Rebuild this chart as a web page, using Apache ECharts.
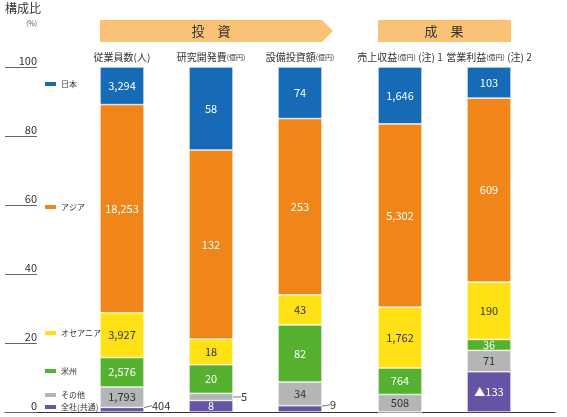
<!DOCTYPE html>
<html>
<head>
<meta charset="utf-8">
<script src="https://cdn.jsdelivr.net/npm/echarts@6/dist/echarts.min.js"></script>
<style>
  html, body { margin: 0; padding: 0; background: #fff; }
  #chart { width: 567px; height: 417px; }
</style>
</head>
<body>
<div id="chart"></div>
<script>
// 投資 / 成果 の項目
const investCategories = ['従業員数(人)', '研究開発費(億円)', '設備投資額(億円)'];
const resultCategories = ['売上収益(億円) (注) 1', '営業利益(億円) (注) 2'];

// 地域別の実数 (従業員数, 研究開発費, 設備投資額, 売上収益, 営業利益)
const japan     = [3294, 58, 74, 1646, 103];
const asia      = [18253, 132, 253, 5302, 609];
const oceania   = [3927, 18, 43, 1762, 190];
const americas  = [2576, 20, 82, 764, 36];
const other     = [1793, 5, 34, 508, 71];
const corporate = [404, 8, 9, 0, -133];

const yTicks = [0, 20, 40, 60, 80, 100];

// stack order: bottom first
const regions = ['全社(共通)', 'その他', '米州', 'オセアニア', 'アジア', '日本'];
const regionValues = [corporate, other, americas, oceania, asia, japan];
const regionColors = ['#6554a3', '#b4b5b6', '#56b130', '#ffe116', '#f08519', '#176ab6'];
const labelColors = ['#fff', '#333', '#fff', '#333', '#fff', '#fff'];
const legendTops = [403, 391, 367, 329, 203, 80];

// labels drawn outside the bar, with a leader line: [region, column, dy]
const outside = [[0, 0, -4], [1, 1, 0], [0, 2, -4]];

const totals = japan.map(function (_, j) {
  return regionValues.reduce(function (s, arr) { return s + Math.abs(arr[j]); }, 0);
});

function fmt(v) {
  const s = String(Math.abs(v)).replace(/\B(?=(\d{3})+(?!\d))/g, ',');
  return v < 0 ? '▲' + s : s;
}

function findOutside(r, j) {
  for (let k = 0; k < outside.length; k++) {
    if (outside[k][0] === r && outside[k][1] === j) return outside[k];
  }
  return null;
}

const groups = [[0, 1, 2], [3, 4]];
const series = [];
groups.forEach(function (cols, g) {
  regions.forEach(function (name, r) {
    series.push({
      type: 'bar',
      name: name,
      xAxisIndex: g + 1,
      yAxisIndex: g + 1,
      stack: 'share' + g,
      barWidth: 44,
      itemStyle: { color: regionColors[r], borderColor: '#fff', borderWidth: 0.6 },
      label: {
        show: true,
        position: 'inside',
        color: labelColors[r],
        fontSize: 11,
        formatter: function (p) { return p.data.raw === 0 ? '' : fmt(p.data.raw); }
      },
      labelLayout: function (p) {
        const o = findOutside(r, cols[p.dataIndex]);
        return o ? { dx: 6, dy: o[2] } : {};
      },
      data: cols.map(function (j) {
        const v = regionValues[r][j];
        const item = { value: Math.abs(v) / totals[j] * 100, raw: v };
        if (findOutside(r, j)) {
          item.label = { position: 'right', distance: 2, color: '#333' };
          item.labelLine = { show: true, lineStyle: { color: '#555', width: 0.8 } };
        }
        return item;
      })
    });
  });
});

const legends = regions.map(function (name, r) {
  return {
    data: [name],
    left: 43,
    top: legendTops[r],
    orient: 'vertical',
    padding: 0,
    icon: 'rect',
    itemWidth: 13,
    itemHeight: 6,
    itemGap: 4,
    textStyle: { fontSize: 8, color: '#333', padding: [0, 0, 0, -1] }
  };
});

function catLabel(s) {
  return '{a|' + s.replace('(億円)', '}{b|(億円)}{a|') + '}';
}

const topAxisLabel = {
  interval: 0,
  margin: 5,
  formatter: catLabel,
  rich: {
    a: { fontSize: 10, color: '#333' },
    b: { fontSize: 7, color: '#333' }
  }
};

const option = {
  animation: false,
  textStyle: { fontFamily: 'Noto Sans CJK JP' },
  title: [
    { text: '構成比', left: 3, top: 2, padding: [0, 2], textStyle: { fontSize: 12, fontWeight: 'normal', color: '#333' } },
    { text: '(%)', left: 26, top: 20, padding: 0, textStyle: { fontSize: 7, fontWeight: 'normal', color: '#555' } }
  ],
  legend: legends,
  grid: [
    { left: 5, right: 12, top: 67, bottom: 5 },
    { left: 77.5, width: 267, top: 67, bottom: 5 },
    { left: 355.5, width: 178, top: 67, bottom: 5 }
  ],
  xAxis: [
    {
      gridIndex: 0, type: 'value', min: 0, max: 1,
      axisLine: { show: true, lineStyle: { color: '#333', width: 1.2 } },
      axisTick: { show: false }, axisLabel: { show: false }, splitLine: { show: false }
    },
    {
      gridIndex: 1, type: 'category', position: 'top', data: investCategories,
      axisLine: { show: false }, axisTick: { show: false }, axisLabel: topAxisLabel
    },
    {
      gridIndex: 2, type: 'category', position: 'top', data: resultCategories,
      axisLine: { show: false }, axisTick: { show: false }, axisLabel: topAxisLabel
    }
  ],
  yAxis: [
    {
      gridIndex: 0, type: 'value', min: yTicks[0], max: yTicks[yTicks.length - 1], interval: 20,
      axisLine: { show: false },
      axisTick: { show: true, inside: true, length: 32, lineStyle: { color: '#666', width: 1 } },
      axisLabel: {
        inside: true, margin: 32, align: 'right', verticalAlign: 'bottom',
        fontSize: 11, color: '#333', padding: [0, 0, 1, 0]
      },
      splitLine: { show: false }
    },
    { gridIndex: 1, type: 'value', min: 0, max: 100, show: false },
    { gridIndex: 2, type: 'value', min: 0, max: 100, show: false }
  ],
  graphic: [
    {
      type: 'polygon',
      shape: { points: [[100, 20], [322, 20], [333, 31], [322, 42], [100, 42]] },
      style: { fill: '#f9c274' }
    },
    {
      type: 'text', x: 211, y: 31,
      style: { text: '投　資', fill: '#333', fontSize: 13, align: 'center', verticalAlign: 'middle', fontFamily: 'Noto Sans CJK JP' }
    },
    {
      type: 'rect',
      shape: { x: 378, y: 20, width: 133, height: 22 },
      style: { fill: '#f9c274' }
    },
    {
      type: 'text', x: 444, y: 31,
      style: { text: '成　果', fill: '#333', fontSize: 13, align: 'center', verticalAlign: 'middle', fontFamily: 'Noto Sans CJK JP' }
    }
  ],
  series: series
};

const myChart = echarts.init(document.getElementById('chart'));
myChart.setOption(option);
</script>
</body>
</html>
